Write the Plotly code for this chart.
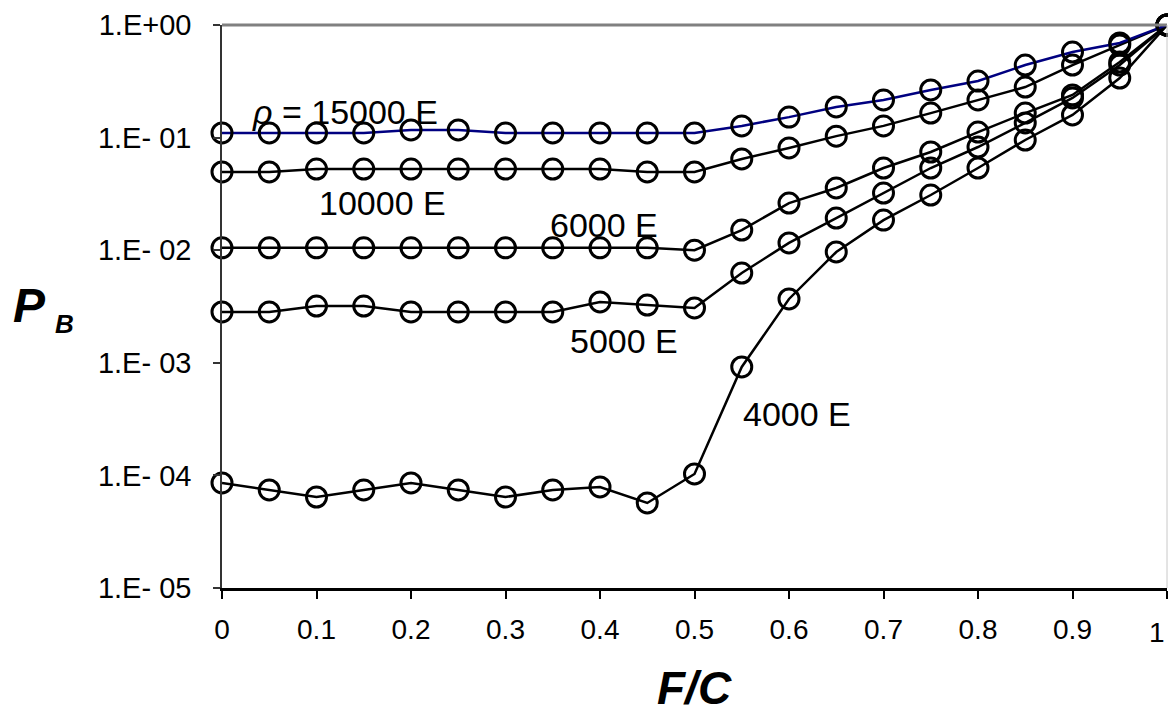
import plotly.graph_objects as go

# ---- data ----
fc = [0, 0.05, 0.1, 0.15, 0.2, 0.25, 0.3, 0.35, 0.4, 0.45, 0.5,
      0.55, 0.6, 0.65, 0.7, 0.75, 0.8, 0.85, 0.9, 0.95, 1.0]

pb_15000 = [0.110, 0.110, 0.110, 0.110, 0.117, 0.117, 0.110, 0.110, 0.110, 0.110, 0.110,
            0.127, 0.152, 0.187, 0.216, 0.265, 0.318, 0.441, 0.575, 0.692, 1.0]
pb_10000 = [0.0495, 0.0495, 0.0526, 0.0526, 0.0526, 0.0526, 0.0526, 0.0526, 0.0526, 0.0495, 0.0495,
            0.0646, 0.0809, 0.103, 0.127, 0.165, 0.216, 0.281, 0.441, 0.664, 1.0]
pb_6000 = [0.0105, 0.0105, 0.0105, 0.0105, 0.0105, 0.0105, 0.0105, 0.0105, 0.0105, 0.0105, 0.0100,
           0.0151, 0.0262, 0.0357, 0.0537, 0.0745, 0.112, 0.165, 0.239, 0.469, 1.0]
pb_5000 = [0.00283, 0.00283, 0.00319, 0.00319, 0.00283, 0.00283, 0.00283, 0.00283, 0.00347, 0.00326, 0.00307,
           0.00627, 0.0116, 0.0193, 0.0322, 0.0537, 0.0825, 0.135, 0.225, 0.441, 1.0]
pb_4000 = [8.57e-5, 7.42e-5, 6.43e-5, 7.42e-5, 8.57e-5, 7.42e-5, 6.43e-5, 7.42e-5, 7.89e-5, 5.69e-5, 1.03e-4,
           9.18e-4, 3.69e-3, 9.64e-3, 0.0185, 0.0309, 0.0537, 0.0952, 0.159, 0.338, 1.0]

ytick_vals = [1, 1e-1, 1e-2, 1e-3, 1e-4, 1e-5]
ytick_text = ["1.E+00", "1.E- 01", "1.E- 02", "1.E- 03", "1.E- 04", "1.E- 05"]
xtick_vals = [0, 0.1, 0.2, 0.3, 0.4, 0.5, 0.6, 0.7, 0.8, 0.9, 1]
xtick_text = ["0", "0.1", "0.2", "0.3", "0.4", "0.5", "0.6", "0.7", "0.8", "0.9", ""]
last_xtick_text = "1"

FONT = "Liberation Sans, Arial, sans-serif"
W, H = 1168, 720
L, R, T, B = 222, 1, 25, 132
PW, PH = W - L - R, H - T - B


def px(x):
    return (x - L) / PW


def py(y):
    return 1 - (y - T) / PH


fig = go.Figure()

series = [
    (pb_4000, "4000 E", "black"),
    (pb_5000, "5000 E", "black"),
    (pb_6000, "6000 E", "black"),
    (pb_10000, "10000 E", "black"),
    (pb_15000, "15000 E", "#000080"),
]
for vals, name, col in series:
    fig.add_trace(go.Scatter(
        x=fc, y=vals, mode="lines+markers", name=name,
        line=dict(color=col, width=2.5),
        marker=dict(symbol="circle-open", size=20, color="black",
                    line=dict(color="black", width=3)),
        cliponaxis=False, showlegend=False,
    ))

fig.update_xaxes(
    range=[0, 1], tickvals=xtick_vals, ticktext=xtick_text,
    showgrid=False, zeroline=False, showline=True, linecolor="black", linewidth=3,
    ticks="outside", ticklen=8, tickwidth=2, tickcolor="black",
    tickfont=dict(family=FONT, size=28, color="black"), ticklabelstandoff=6,
)
fig.update_yaxes(
    type="log", range=[-5, 0], tickvals=ytick_vals, ticktext=ytick_text,
    showgrid=False, zeroline=False, showline=True, linecolor="#333333", linewidth=1.5,
    ticks="outside", ticklen=7, tickwidth=1.5, tickcolor="#333333",
    tickfont=dict(family=FONT, size=29, color="black"), ticklabelstandoff=16,
)

shapes = [
    dict(type="line", xref="paper", yref="paper", x0=0, x1=1, y0=1, y1=1,
         line=dict(color="#808080", width=3)),
    dict(type="line", xref="paper", yref="paper", x0=1, x1=1, y0=0, y1=1,
         line=dict(color="#c8c8c8", width=1)),
]

annots = []


def txt(text, cx, cy, size, bold=False, italic=False, xanchor="center"):
    t = text
    if italic:
        t = "<i>" + t + "</i>"
    if bold:
        t = "<b>" + t + "</b>"
    annots.append(dict(text=t, x=px(cx), y=py(cy), xref="paper", yref="paper",
                       xanchor=xanchor, yanchor="middle", showarrow=False,
                       font=dict(family=FONT, size=size, color="black")))


txt("<i>ρ</i> = 15000 E", 250, 112, 34, xanchor="left")
txt("10000 E", 317, 203, 34, xanchor="left")
txt("6000 E", 548, 225, 34, xanchor="left")
txt("5000 E", 568, 341, 34, xanchor="left")
txt("4000 E", 741, 414, 34, xanchor="left")
txt("P", 29, 305, 48, bold=True, italic=True)
txt("B", 64, 324, 26, bold=True, italic=True)
txt("F/C", 694, 688, 46, bold=True, italic=True)
txt(last_xtick_text, 1167, 632, 28, xanchor="right")

fig.update_layout(
    width=W, height=H, margin=dict(l=L, r=R, t=T, b=B),
    paper_bgcolor="white", plot_bgcolor="white",
    shapes=shapes, annotations=annots,
    font=dict(family=FONT, color="black"),
)

fig.write_html("out.html")
